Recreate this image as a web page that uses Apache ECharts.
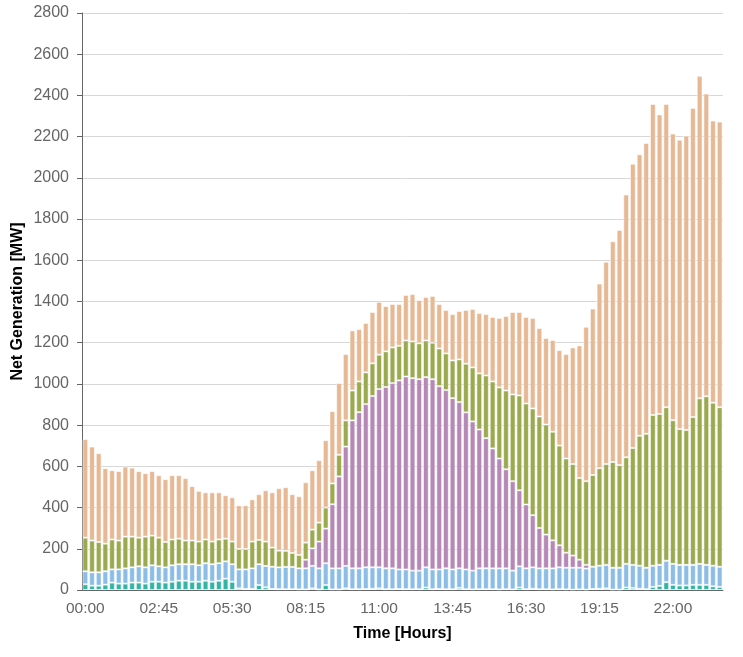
<!DOCTYPE html>
<html>
<head>
<meta charset="utf-8">
<script src="https://cdn.jsdelivr.net/npm/echarts@6/dist/echarts.min.js"></script>
<style>html,body{margin:0;padding:0;background:#fff;}#chart{width:743px;height:657px;}</style>
</head>
<body>
<div id="chart"></div>
<script>
// 15-minute time slots 00:00 .. 23:45
const categories = [];
for (let h = 0; h < 24; h++) for (let m = 0; m < 60; m += 15)
  categories.push(String(h).padStart(2, '0') + ':' + String(m).padStart(2, '0'));

const yTicks = [0, 200, 400, 600, 800, 1000, 1200, 1400, 1600, 1800, 2000, 2200, 2400, 2600, 2800];

const teal = [28,21,21,26,36,31,31,36,36,31,40,40,36,40,45,45,40,40,45,40,45,55,40,8,5,5,24,13,5,4,4,4,3,3,8,3,24,3,3,8,4,4,5,6,8,4,4,5,4,4,4,12,4,5,4,4,10,4,3,4,4,4,3,4,3,12,4,6,4,4,3,4,3,2,3,2,5,6,8,2,2,12,10,6,4,15,20,38,25,22,22,25,25,25,18,15];
const blue = [63,65,65,65,64,69,74,74,79,79,80,75,74,80,80,80,85,80,85,85,85,84,85,92,95,100,101,104,108,106,108,108,102,102,109,102,106,102,102,109,101,101,105,104,102,101,101,95,96,90,90,98,96,95,101,96,95,96,91,101,101,101,102,101,91,103,101,104,101,101,102,106,105,106,105,102,108,112,114,106,106,115,112,112,104,103,102,104,102,100,100,97,102,97,100,98];
const purple = [0,0,0,0,0,0,0,0,0,0,0,0,0,0,0,0,0,0,0,0,0,0,0,0,0,0,0,0,0,0,0,0,0,42,85,130,168,311,446,579,718,758,792,831,865,880,899,917,936,934,929,923,923,889,865,831,807,762,724,674,632,582,533,481,434,369,310,253,196,164,136,107,73,59,39,18,0,0,0,0,0,0,0,0,0,0,0,0,0,0,0,0,0,0,0,0];
const green = [163,154,147,134,145,140,154,149,139,149,144,139,123,125,124,115,115,115,115,110,115,110,110,99,99,130,118,118,93,81,78,68,65,83,91,92,102,101,105,127,145,149,154,159,167,173,173,168,175,178,174,178,177,183,178,183,207,236,262,272,304,325,345,382,421,460,490,518,541,534,527,484,457,444,396,406,445,473,489,513,498,517,567,630,650,731,732,745,697,659,654,717,803,818,791,774];
const peach = [478,456,431,366,336,337,340,335,323,308,313,303,305,312,308,303,264,246,229,239,229,211,215,212,212,205,222,249,268,303,309,285,285,293,288,303,327,351,348,322,292,254,240,249,256,220,211,203,221,230,210,211,227,216,211,225,235,261,284,293,298,313,337,362,400,405,420,439,429,420,445,463,507,566,644,750,808,896,982,1071,1141,1275,1380,1366,1411,1510,1454,1472,1391,1404,1429,1500,1565,1469,1369,1386];

const seriesDefs = [
  { name: 'Other', data: teal, color: '#33b5a5' },
  { name: 'Hydro', data: blue, color: '#8bbde6' },
  { name: 'Solar', data: purple, color: '#b588b6' },
  { name: 'Wind', data: green, color: '#9caa4f' },
  { name: 'Thermal', data: peach, color: '#e6b894' }
];

const chart = echarts.init(document.getElementById('chart'));
chart.setOption({
  animation: false,
  grid: { left: 82, right: 20, top: 13, bottom: 67 },
  xAxis: {
    type: 'category',
    data: categories,
    name: 'Time [Hours]',
    nameLocation: 'middle',
    nameGap: 36,
    nameTextStyle: { color: '#000', fontWeight: 'bold', fontSize: 16, fontFamily: 'Liberation Sans' },
    axisLine: { lineStyle: { color: '#666' } },
    axisTick: { alignWithLabel: true, interval: 10, length: 5, lineStyle: { color: '#666' } },
    axisLabel: { interval: 10, color: '#666', fontSize: 15.5, fontFamily: 'Liberation Sans', margin: 11 }
  },
  yAxis: {
    type: 'value',
    min: 0,
    max: 2800,
    interval: 200,
    name: 'Net Generation [MW]',
    nameLocation: 'middle',
    nameGap: 56,
    nameMoveOverlap: false,
    nameTextStyle: { color: '#000', fontWeight: 'bold', fontSize: 16, fontFamily: 'Liberation Sans' },
    axisLine: { show: true, lineStyle: { color: '#666' } },
    axisTick: { show: true, length: 5, lineStyle: { color: '#666' } },
    axisLabel: { color: '#666', fontSize: 16, fontFamily: 'Liberation Sans', margin: 13,
      formatter: v => yTicks.includes(v) ? String(v) : '' },
    splitLine: { lineStyle: { color: '#d8d8d8' } }
  },
  series: seriesDefs.map(s => ({
    name: s.name,
    type: 'bar',
    stack: 'total',
    data: s.data,
    barCategoryGap: '14%',
    itemStyle: { color: s.color, borderColor: 'rgba(255,255,255,0.55)', borderWidth: 1 }
  }))
});
</script>
</body>
</html>
